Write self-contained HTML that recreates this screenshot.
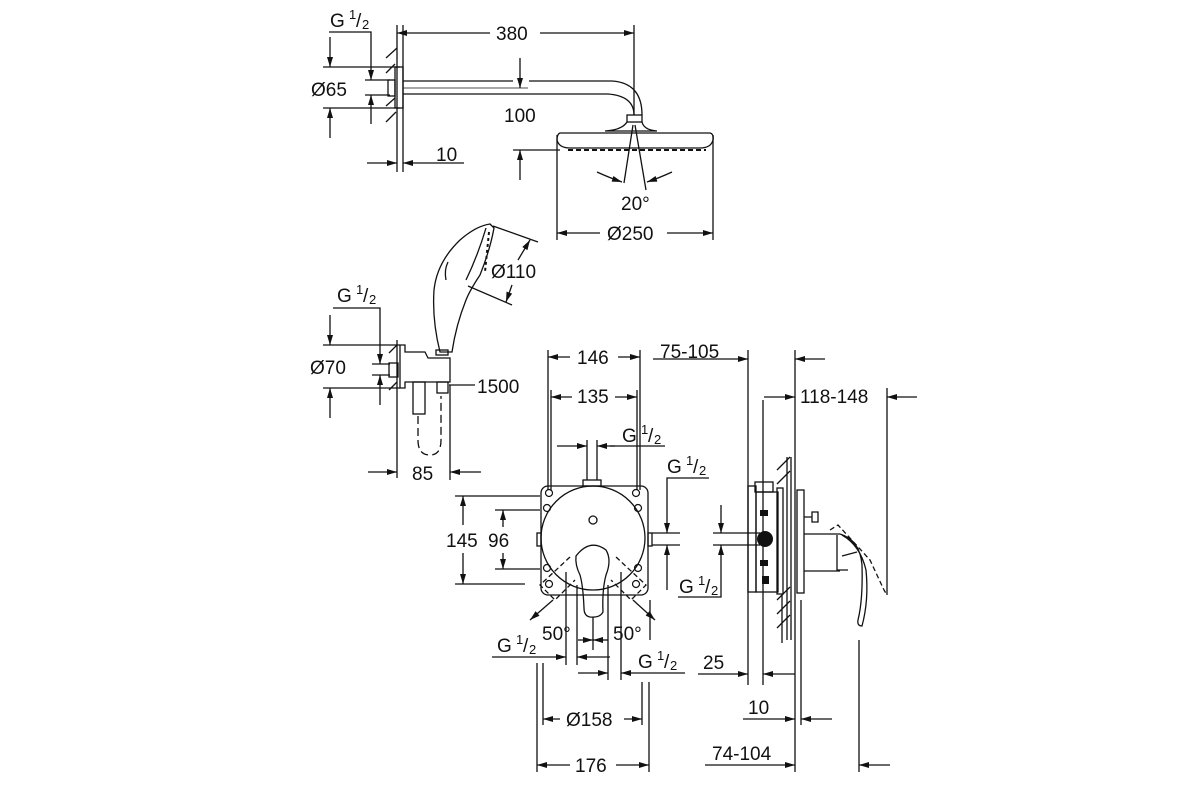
<!DOCTYPE html>
<html><head><meta charset="utf-8"><style>
html,body{margin:0;padding:0;background:#fff;}
svg{display:block;}
text{font-family:"Liberation Sans",sans-serif;font-size:19px;fill:#111;}
.s{font-size:13px;}
</style></head><body>
<svg width="1200" height="800" viewBox="0 0 1200 800" xmlns="http://www.w3.org/2000/svg">
<defs>
<marker id="a" viewBox="0 0 10 6" refX="10" refY="3" markerWidth="14" markerHeight="6" markerUnits="userSpaceOnUse" orient="auto"><path d="M0,0 L10,3 L0,6z" fill="#111"/></marker>
</defs>
<g fill="none" stroke="#111" stroke-width="1.3">
<polyline points="329,32 371,32 371,60"/><line x1="371" y1="60" x2="371" y2="80" marker-end="url(#a)"/>
<line x1="371" y1="124" x2="371" y2="95" marker-end="url(#a)"/>
<line x1="330" y1="37" x2="330" y2="67" marker-end="url(#a)"/>
<line x1="330" y1="138" x2="330" y2="108" marker-end="url(#a)"/>
<line x1="323" y1="67" x2="400" y2="67"/><line x1="323" y1="108" x2="400" y2="108"/>
<line x1="365" y1="80" x2="390" y2="80"/><line x1="365" y1="95" x2="390" y2="95"/>
<line x1="397" y1="25" x2="397" y2="172"/><line x1="403" y1="25" x2="403" y2="172"/>
<path d="M386,58 L397,48 M386,73 L395,64 M386,106 L395,98 M386,122 L396,112"/>
<rect x="395" y="67" width="8" height="41"/>
<rect x="388" y="80" width="7" height="16"/>
<path d="M403,81 L513,81 M529,81 L612,81 Q642,83 642,115"/>
<path d="M403,94 L608,94 Q634,96 634,115"/>
<line x1="403" y1="88" x2="528" y2="88" stroke-width="0.8"/>
<line x1="634" y1="25" x2="634" y2="115"/>
<line x1="490" y1="33" x2="397" y2="33" marker-end="url(#a)"/>
<line x1="540" y1="33" x2="634" y2="33" marker-end="url(#a)"/>
<line x1="520" y1="58" x2="520" y2="88" marker-end="url(#a)"/>
<line x1="520" y1="180" x2="520" y2="150" marker-end="url(#a)"/>
<line x1="513" y1="150" x2="560" y2="150"/>
<rect x="627" y="115" width="15" height="7"/>
<path d="M627,122 Q622,130 605,131 L657,131 Q644,130 642,122"/>
<path d="M560,133 L710,133 Q714,134 713,140 Q711,148 700,148 L570,148 Q559,148 557,140 Q557,134 560,133z"/>
<path d="M568,150 L706,150" stroke-dasharray="5,3" stroke-width="2"/>
<line x1="557" y1="135" x2="557" y2="240"/><line x1="713" y1="135" x2="713" y2="240"/>
<line x1="633" y1="125" x2="624" y2="183"/><line x1="635" y1="125" x2="646" y2="190"/>
<path d="M597,172 Q610,178 622,182" marker-end="url(#a)"/>
<path d="M672,172 Q659,178 647,182" marker-end="url(#a)"/>
<line x1="367" y1="163" x2="397" y2="163" marker-end="url(#a)"/>
<line x1="464" y1="163" x2="403" y2="163" marker-end="url(#a)"/>
<line x1="600" y1="233" x2="557" y2="233" marker-end="url(#a)"/>
<line x1="667" y1="233" x2="713" y2="233" marker-end="url(#a)"/>

<path d="M440,352 Q432,320 434,290 Q437,262 460,240 Q476,226 490,224 L494,228 Q490,250 480,275 Q470,290 466,300 Q456,325 452,352 Z"/>
<path d="M486,228 Q478,255 466,280" />
<path d="M489,232 L485,272" stroke-dasharray="3,3" stroke-width="2"/>
<path d="M448,262 Q444,270 446,280"/>
<rect x="436" y="350" width="12" height="5"/>
<line x1="493" y1="226" x2="538" y2="242"/><line x1="468" y1="286" x2="512" y2="305"/>
<line x1="518" y1="260" x2="530" y2="240" marker-end="url(#a)"/>
<line x1="512" y1="285" x2="506" y2="302" marker-end="url(#a)"/>
<polyline points="333,308 380,308 380,340"/><line x1="380" y1="340" x2="380" y2="364" marker-end="url(#a)"/>
<line x1="380" y1="405" x2="380" y2="375" marker-end="url(#a)"/>
<line x1="330" y1="315" x2="330" y2="345" marker-end="url(#a)"/>
<line x1="330" y1="418" x2="330" y2="388" marker-end="url(#a)"/>
<line x1="323" y1="345" x2="400" y2="345"/><line x1="323" y1="388" x2="400" y2="388"/>
<line x1="372" y1="364" x2="390" y2="364"/><line x1="372" y1="375" x2="390" y2="375"/>
<line x1="397" y1="340" x2="397" y2="478"/>
<path d="M389,353 L397,345 M389,390 L397,382"/>
<path d="M400,345 L405,345 L405,352 L425,352 L428,358 L450,358 L450,382 L405,382 L405,388 L400,388 Z"/>
<rect x="389" y="363" width="9" height="14"/>
<rect x="413" y="382" width="12" height="32"/>
<rect x="437" y="382" width="11" height="11"/>
<path d="M418,416 L418,440 Q418,455 430,455 Q441,455 441,440 L441,396" stroke-dasharray="8,4"/>
<line x1="449" y1="385" x2="475" y2="385"/>
<line x1="450" y1="385" x2="450" y2="480"/>
<line x1="368" y1="472" x2="397" y2="472" marker-end="url(#a)"/>
<line x1="481" y1="472" x2="450" y2="472" marker-end="url(#a)"/>

<line x1="548" y1="350" x2="548" y2="490"/><line x1="640" y1="350" x2="640" y2="490"/>
<line x1="551" y1="390" x2="551" y2="490"/><line x1="637" y1="390" x2="637" y2="490"/>
<line x1="570" y1="357" x2="548" y2="357" marker-end="url(#a)"/>
<line x1="618" y1="357" x2="640" y2="357" marker-end="url(#a)"/>
<line x1="572" y1="397" x2="551" y2="397" marker-end="url(#a)"/>
<line x1="615" y1="397" x2="637" y2="397" marker-end="url(#a)"/>
<line x1="587" y1="440" x2="587" y2="480"/><line x1="597" y1="440" x2="597" y2="480"/>
<rect x="583" y="480" width="18" height="6"/>
<line x1="557" y1="446" x2="587" y2="446" marker-end="url(#a)"/>
<polyline points="665,446 610,446"/><line x1="615" y1="446" x2="597" y2="446" marker-end="url(#a)"/>
<rect x="541" y="486" width="107" height="109" rx="7"/>
<rect x="537" y="533" width="4" height="13"/><rect x="648" y="533" width="4" height="13"/>
<g stroke-width="1.2">
<circle cx="549" cy="493" r="3.5"/><circle cx="636" cy="493" r="3.5"/>
<circle cx="547" cy="508" r="3.5"/><circle cx="638" cy="508" r="3.5"/>
<circle cx="547" cy="568" r="3.5"/><circle cx="638" cy="568" r="3.5"/>
<circle cx="549" cy="584" r="3.5"/><circle cx="636" cy="584" r="3.5"/>
</g>
<circle cx="593" cy="538" r="52"/>
<circle cx="593" cy="520" r="4"/>
<path d="M576,556 Q590,538 606,550 Q612,560 606,575 Q602,590 603,612 Q600,618 590,617 Q584,616 584,608 Q583,585 580,575 Q575,565 576,556z"/>
<path d="M570,557 L540,585 L555,600 L575,580" stroke-dasharray="5,3"/>
<path d="M616,557 L646,585 L631,600 L611,580" stroke-dasharray="5,3"/>
<line x1="553" y1="600" x2="530" y2="620" marker-end="url(#a)"/>
<line x1="633" y1="600" x2="655" y2="620" marker-end="url(#a)"/>
<line x1="566" y1="572" x2="566" y2="665"/><line x1="577" y1="585" x2="577" y2="665"/>
<line x1="608" y1="585" x2="608" y2="680"/><line x1="621" y1="572" x2="621" y2="680"/>
<line x1="593" y1="617" x2="593" y2="650"/>
<line x1="578" y1="640" x2="593" y2="640" marker-end="url(#a)"/>
<line x1="608" y1="640" x2="593" y2="640" marker-end="url(#a)"/>
<line x1="650" y1="600" x2="650" y2="640"/>
<line x1="455" y1="496" x2="540" y2="496"/><line x1="455" y1="584" x2="525" y2="584"/>
<line x1="495" y1="510" x2="540" y2="510"/><line x1="495" y1="569" x2="540" y2="569"/>
<line x1="463" y1="525" x2="463" y2="496" marker-end="url(#a)"/>
<line x1="463" y1="553" x2="463" y2="584" marker-end="url(#a)"/>
<line x1="503" y1="527" x2="503" y2="510" marker-end="url(#a)"/>
<line x1="503" y1="553" x2="503" y2="569" marker-end="url(#a)"/>
<polyline points="709,478 667,478 667,505"/><line x1="667" y1="505" x2="667" y2="533" marker-end="url(#a)"/>
<line x1="667" y1="590" x2="667" y2="545" marker-end="url(#a)"/>
<line x1="652" y1="533" x2="680" y2="533"/><line x1="652" y1="545" x2="680" y2="545"/>
<line x1="492" y1="657" x2="566" y2="657" marker-end="url(#a)"/>
<line x1="610" y1="657" x2="577" y2="657" marker-end="url(#a)"/>
<line x1="578" y1="673" x2="608" y2="673" marker-end="url(#a)"/>
<line x1="685" y1="673" x2="621" y2="673" marker-end="url(#a)"/>
<line x1="543" y1="663" x2="543" y2="725"/><line x1="642" y1="682" x2="642" y2="725"/>
<line x1="537" y1="663" x2="537" y2="772"/><line x1="649" y1="682" x2="649" y2="772"/>
<line x1="560" y1="719" x2="543" y2="719" marker-end="url(#a)"/>
<line x1="624" y1="719" x2="642" y2="719" marker-end="url(#a)"/>
<line x1="570" y1="765" x2="537" y2="765" marker-end="url(#a)"/>
<line x1="616" y1="765" x2="649" y2="765" marker-end="url(#a)"/>

<line x1="748" y1="350" x2="748" y2="685"/>
<line x1="763" y1="400" x2="763" y2="685"/>
<line x1="795" y1="350" x2="795" y2="772"/>
<line x1="801" y1="600" x2="801" y2="725"/>
<line x1="782" y1="595" x2="782" y2="643"/>
<line x1="859" y1="640" x2="859" y2="772"/>
<line x1="887" y1="388" x2="887" y2="595"/>
<line x1="653" y1="359" x2="748" y2="359" marker-end="url(#a)"/>
<line x1="825" y1="359" x2="795" y2="359" marker-end="url(#a)"/>
<line x1="764" y1="397" x2="795" y2="397" marker-end="url(#a)"/>
<line x1="917" y1="397" x2="887" y2="397" marker-end="url(#a)"/>
<line x1="698" y1="674" x2="748" y2="674" marker-end="url(#a)"/>
<line x1="795" y1="674" x2="763" y2="674" marker-end="url(#a)"/>
<line x1="743" y1="719" x2="795" y2="719" marker-end="url(#a)"/>
<line x1="832" y1="719" x2="801" y2="719" marker-end="url(#a)"/>
<line x1="705" y1="765" x2="795" y2="765" marker-end="url(#a)"/>
<line x1="890" y1="765" x2="859" y2="765" marker-end="url(#a)"/>
<line x1="721" y1="505" x2="721" y2="533" marker-end="url(#a)"/>
<polyline points="678,597 721,597 721,575"/><line x1="721" y1="575" x2="721" y2="545" marker-end="url(#a)"/>
<line x1="713" y1="533" x2="760" y2="533"/><line x1="713" y1="545" x2="760" y2="545"/>
<rect x="748" y="486" width="8" height="106"/>
<rect x="755" y="482" width="18" height="10"/>
<rect x="756" y="492" width="22" height="100"/>
<rect x="777" y="488" width="6" height="106"/>
<line x1="787" y1="457" x2="787" y2="640"/><line x1="791" y1="457" x2="791" y2="640"/>
<path d="M777,470 L790,457 M777,484 L790,471 M777,600 L790,587 M777,614 L790,601 M777,628 L790,615"/>
<rect x="797" y="490" width="7" height="103"/>
<path d="M804,517 L812,517 M812,512 L812,522 L818,522 L818,512 Z"/>
<path d="M804,534 L840,534 M804,571 L840,571 M837,535 L837,570 L848,570 M840,534 Q860,540 862,565 Q863,600 858,620 Q857,626 862,626 Q869,600 866,570 Q860,545 842,535"/>
<path d="M830,530 L838,525 L870,560 L884,590 L887,595" stroke-dasharray="5,3"/>
<path d="M842,556 L857,552" />
</g>
<g fill="#111">
<circle cx="765" cy="539" r="8"/>
<rect x="760" y="510" width="8" height="6"/><rect x="760" y="560" width="8" height="6"/>
<rect x="762" y="576" width="7" height="8"/>
</g>

<text x="330" y="27">G</text><text class="s" x="349" y="19">1</text><text x="356" y="27">/</text><text class="s" x="362" y="29">2</text>
<text x="496" y="40">380</text>
<text x="311" y="96">Ø65</text>
<text x="504" y="122">100</text>
<text x="436" y="161">10</text>
<text x="621" y="210">20°</text>
<text x="607" y="240">Ø250</text>
<text x="491" y="278">Ø110</text>
<text x="337" y="302">G</text><text class="s" x="356" y="294">1</text><text x="363" y="302">/</text><text class="s" x="369" y="304">2</text>
<text x="310" y="374">Ø70</text>
<text x="477" y="393">1500</text>
<text x="412" y="480">85</text>
<text x="577" y="364">146</text>
<text x="660" y="358">75-105</text>
<text x="577" y="403">135</text>
<text x="800" y="403">118-148</text>
<text x="622" y="442">G</text><text class="s" x="641" y="434">1</text><text x="648" y="442">/</text><text class="s" x="654" y="444">2</text>
<text x="667" y="473">G</text><text class="s" x="686" y="465">1</text><text x="693" y="473">/</text><text class="s" x="699" y="475">2</text>
<text x="446" y="547">145</text>
<text x="488" y="547">96</text>
<text x="679" y="593">G</text><text class="s" x="698" y="585">1</text><text x="705" y="593">/</text><text class="s" x="711" y="595">2</text>
<text x="542" y="640">50°</text>
<text x="613" y="640">50°</text>
<text x="497" y="652">G</text><text class="s" x="516" y="644">1</text><text x="523" y="652">/</text><text class="s" x="529" y="654">2</text>
<text x="638" y="668">G</text><text class="s" x="657" y="660">1</text><text x="664" y="668">/</text><text class="s" x="670" y="670">2</text>
<text x="703" y="669">25</text>
<text x="748" y="714">10</text>
<text x="566" y="726">Ø158</text>
<text x="712" y="760">74-104</text>
<text x="575" y="772">176</text>
</svg>
</body></html>
